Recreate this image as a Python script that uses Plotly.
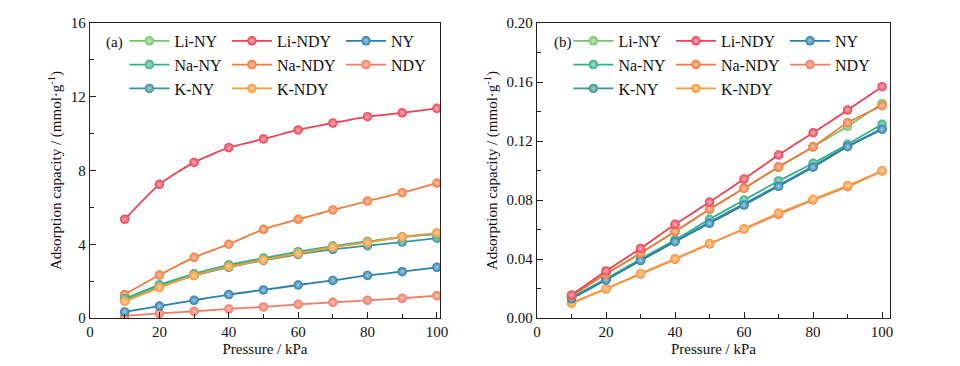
import plotly.graph_objects as go

pressure = [10, 20, 30, 40, 50, 60, 70, 80, 90, 100]

series_names = ["Li-NY", "Na-NY", "K-NY", "Li-NDY", "Na-NDY", "K-NDY", "NY", "NDY"]
legend_groups = ["g1", "g1", "g1", "g2", "g2", "g2", "g3", "g3"]
colors = ["#79c36a", "#36b08c", "#3a9396", "#ee4055", "#f47b3f", "#f89b3a", "#2a7fad", "#f27b62"]
highlights = ["#c6e8bd", "#a8e0cd", "#a6d0d1", "#f9b0b9", "#fbc4a8", "#fcd1a4", "#a5cbe2", "#f9c2b6"]

# Panel (a) values, mmol/g
a_li_ny = [1.00, 1.75, 2.35, 2.85, 3.20, 3.55, 3.85, 4.12, 4.38, 4.58]
a_na_ny = [1.05, 1.80, 2.40, 2.88, 3.25, 3.60, 3.90, 4.15, 4.40, 4.55]
a_k_ny = [0.95, 1.70, 2.30, 2.75, 3.12, 3.45, 3.72, 3.92, 4.12, 4.33]
a_li_ndy = [5.35, 7.25, 8.44, 9.24, 9.71, 10.20, 10.57, 10.92, 11.13, 11.37]
a_na_ndy = [1.28, 2.33, 3.29, 4.00, 4.81, 5.35, 5.86, 6.34, 6.80, 7.32]
a_k_ndy = [0.90, 1.65, 2.30, 2.78, 3.15, 3.50, 3.85, 4.10, 4.40, 4.62]
a_ny = [0.33, 0.65, 0.96, 1.27, 1.52, 1.79, 2.04, 2.31, 2.51, 2.75]
a_ndy = [0.11, 0.25, 0.36, 0.49, 0.60, 0.74, 0.85, 0.96, 1.07, 1.21]

# Panel (b) values, mmol/g
b_li_ny = [0.0150, 0.0300, 0.0440, 0.0585, 0.0735, 0.0880, 0.1020, 0.1160, 0.1300, 0.1455]
b_na_ny = [0.0140, 0.0265, 0.0400, 0.0530, 0.0669, 0.0800, 0.0929, 0.1049, 0.1178, 0.1313]
b_k_ny = [0.0135, 0.0260, 0.0392, 0.0522, 0.0650, 0.0775, 0.0900, 0.1030, 0.1165, 0.1285]
b_li_ndy = [0.0156, 0.0319, 0.0472, 0.0635, 0.0786, 0.0942, 0.1105, 0.1256, 0.1410, 0.1568]
b_na_ndy = [0.0150, 0.0298, 0.0439, 0.0588, 0.0739, 0.0879, 0.1026, 0.1161, 0.1324, 0.1439]
b_k_ndy = [0.0101, 0.0199, 0.0301, 0.0402, 0.0505, 0.0605, 0.0712, 0.0805, 0.0898, 0.0998]
b_ny = [0.0130, 0.0258, 0.0389, 0.0517, 0.0642, 0.0766, 0.0893, 0.1022, 0.1161, 0.1279]
b_ndy = [0.0100, 0.0197, 0.0298, 0.0398, 0.0502, 0.0603, 0.0703, 0.0800, 0.0890, 0.0997]

panel_a = [a_li_ny, a_na_ny, a_k_ny, a_li_ndy, a_na_ndy, a_k_ndy, a_ny, a_ndy]
panel_b = [b_li_ny, b_na_ny, b_k_ny, b_li_ndy, b_na_ndy, b_k_ndy, b_ny, b_ndy]

# draw order (back to front) roughly as in the reference
draw_order_a = [7, 6, 4, 3, 2, 0, 1, 5]
draw_order_b = [7, 5, 2, 1, 6, 0, 4, 3]

FONT = "Liberation Serif"
fig = go.Figure()

panels = [(panel_a, draw_order_a, "x", "y", "legend"), (panel_b, draw_order_b, "x2", "y2", "legend2")]
for panel, (vals, order, xa, ya, leg) in enumerate(panels):
    for i in order:
        fig.add_trace(go.Scatter(
            x=pressure, y=vals[i], name=series_names[i], mode="lines+markers",
            xaxis=xa, yaxis=ya, legend=leg, legendgroup=legend_groups[i] + str(panel),
            legendrank=i + 1,
            line=dict(color=colors[i], width=1.8, shape="spline", smoothing=0.6),
            marker=dict(size=9.5, color=colors[i],
                        gradient=dict(type="radial", color=highlights[i])),
        ))

axis_common = dict(
    showline=True, linecolor="#222", linewidth=1.3, mirror=True,
    ticks="inside", ticklen=6, tickwidth=1.2, tickcolor="#222",
    showgrid=False, zeroline=False, automargin=False,
    tickfont=dict(family=FONT, size=15, color="#111"),
)
minor_x = dict(dtick=10, ticks="inside", ticklen=3.5, tickwidth=1.1, tickcolor="#222", showgrid=False)
title_font = dict(family=FONT, size=15, color="#111")

legend_common = dict(
    orientation="h", traceorder="grouped", tracegroupgap=19,
    font=dict(family=FONT, size=16, color="#111"),
    bgcolor="rgba(0,0,0,0)", itemwidth=40, xanchor="left", yanchor="top",
)

# page body has an 8px default margin, so the figure is sized to fit the window
fig.update_layout(
    width=952, height=358,
    margin=dict(l=82, r=70, t=15, b=48),
    paper_bgcolor="white", plot_bgcolor="white",
    showlegend=True,
    xaxis=dict(domain=[0, 0.4375], range=[0, 100.9], tick0=0, dtick=20, minor=minor_x,
               title=dict(text="Pressure / kPa", font=title_font, standoff=4),
               anchor="y", **axis_common),
    yaxis=dict(range=[0, 16], tick0=0, dtick=4,
               minor=dict(dtick=2, ticks="inside", ticklen=3.5, tickwidth=1.1, tickcolor="#222", showgrid=False),
               title=dict(text="Adsorption capacity / (mmol·g<sup>-1</sup>)", font=title_font, standoff=5),
               anchor="x", **axis_common),
    xaxis2=dict(domain=[0.55875, 1], range=[0, 102.3], tick0=0, dtick=20, minor=minor_x,
                title=dict(text="Pressure / kPa", font=title_font, standoff=4),
                anchor="y2", **axis_common),
    yaxis2=dict(range=[0, 0.2], tick0=0, dtick=0.04, tickformat=".2f",
                minor=dict(dtick=0.02, ticks="inside", ticklen=3.5, tickwidth=1.1, tickcolor="#222", showgrid=False),
                title=dict(text="Adsorption capacity / (mmol·g<sup>-1</sup>)", font=title_font, standoff=5),
                anchor="x2", **axis_common),
    legend=dict(x=0.043, y=0.997, **legend_common),
    legend2=dict(x=0.598, y=0.997, **legend_common),
    annotations=[
        dict(text="(a)", x=0.017, y=0.935, xref="paper", yref="paper", showarrow=False,
             xanchor="left", yanchor="middle", font=dict(family=FONT, size=15, color="#111")),
        dict(text="(b)", x=0.578, y=0.935, xref="paper", yref="paper", showarrow=False,
             xanchor="left", yanchor="middle", font=dict(family=FONT, size=15, color="#111")),
    ],
)

fig.write_html("out.html")
